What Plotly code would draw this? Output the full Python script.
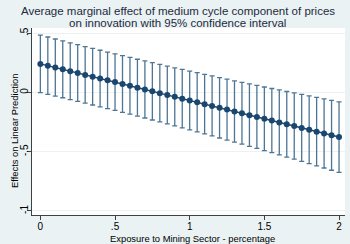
import plotly.graph_objects as go

exposure = [0.0, 0.05, 0.1, 0.15, 0.2, 0.25, 0.3, 0.35, 0.4, 0.45,
            0.5, 0.55, 0.6, 0.65, 0.7, 0.75, 0.8, 0.85, 0.9, 0.95,
            1.0, 1.05, 1.1, 1.15, 1.2, 1.25, 1.3, 1.35, 1.4, 1.45,
            1.5, 1.55, 1.6, 1.65, 1.7, 1.75, 1.8, 1.85, 1.9, 1.95, 2.0]

effect = [0.242, 0.227, 0.211, 0.196, 0.180, 0.165, 0.149, 0.134, 0.118, 0.103,
          0.088, 0.072, 0.057, 0.041, 0.026, 0.010, -0.005, -0.021, -0.036, -0.052,
          -0.067, -0.082, -0.098, -0.113, -0.129, -0.144, -0.160, -0.175, -0.191, -0.206,
          -0.222, -0.237, -0.252, -0.268, -0.283, -0.299, -0.314, -0.330, -0.345, -0.361,
          -0.376]

ci_upper = [0.485, 0.469, 0.452, 0.436, 0.420, 0.404, 0.388, 0.373, 0.357, 0.342,
            0.327, 0.311, 0.297, 0.281, 0.267, 0.252, 0.238, 0.223, 0.209, 0.195,
            0.181, 0.168, 0.153, 0.140, 0.126, 0.113, 0.099, 0.086, 0.073, 0.060,
            0.047, 0.034, 0.022, 0.009, -0.003, -0.016, -0.028, -0.041, -0.053, -0.066,
            -0.078]

ci_lower = [-0.001, -0.015, -0.030, -0.044, -0.060, -0.074, -0.090, -0.105, -0.121, -0.136,
            -0.151, -0.167, -0.183, -0.199, -0.215, -0.232, -0.248, -0.265, -0.281, -0.299,
            -0.315, -0.332, -0.349, -0.366, -0.384, -0.401, -0.419, -0.436, -0.455, -0.472,
            -0.491, -0.508, -0.526, -0.545, -0.563, -0.582, -0.600, -0.619, -0.637, -0.656,
            -0.674]

x_tickvals = [0, 0.5, 1, 1.5, 2]
x_ticktext = ["0", ".5", "1", "1.5", "2"]
y_tickvals = [-1, -0.5, 0, 0.5]
y_ticktext = ["-1", "-.5", "0", ".5"]

title_lines = ["Average marginal effect of medium cycle component of prices",
               "on innovation with 95% confidence interval"]
x_title = "Exposure to Mining Sector - percentage"
y_title = "Effects on Linear Prediction"

err_plus = [u - e for u, e in zip(ci_upper, effect)]
err_minus = [e - l for e, l in zip(effect, ci_lower)]

navy = "#1a476f"
fig = go.Figure()
fig.add_trace(go.Scatter(
    x=exposure, y=effect, mode="lines+markers",
    line=dict(color=navy, width=1.5),
    marker=dict(color=navy, size=6),
    error_y=dict(type="data", symmetric=False, array=err_plus, arrayminus=err_minus,
                 color="#4d7594", thickness=1.3, width=2.5),
    showlegend=False,
))

font_family = "Liberation Sans, Arial, sans-serif"
for txt, yy in zip(title_lines, [1.093, 1.027]):
    fig.add_annotation(text=txt, xref="paper", yref="paper", x=0.466, y=yy,
                       xanchor="center", yanchor="middle", showarrow=False,
                       font=dict(size=11.5, color="#1e2a40", family=font_family))

fig.add_annotation(text=x_title, xref="paper", yref="paper", x=0.514, y=-0.126,
                   xanchor="center", yanchor="middle", showarrow=False,
                   font=dict(size=9.4, color="#000000", family=font_family))
fig.add_annotation(text=y_title, xref="paper", yref="paper", x=-0.0575, y=0.449,
                   xanchor="center", yanchor="middle", showarrow=False, textangle=-90,
                   font=dict(size=9.4, color="#000000", family=font_family))

fig.update_layout(
    width=350, height=244,
    paper_bgcolor="#eaf2f3", plot_bgcolor="#ffffff",
    margin=dict(l=32, r=5, t=28, b=29, autoexpand=False),
    font=dict(family=font_family, color="#000000"),
    xaxis=dict(range=[-0.056, 2.04], tickvals=x_tickvals, ticktext=x_ticktext, automargin=False,
               ticklabelstandoff=-2,
               showgrid=False, zeroline=False, showline=True, linecolor="#404040", linewidth=1,
               ticks="outside", ticklen=4, tickcolor="#404040", tickfont=dict(size=10)),
    yaxis=dict(range=[-1.034, 0.545], tickvals=y_tickvals, ticktext=y_ticktext, tickangle=-90,
               automargin=False, ticklabelstandoff=-5,
               showgrid=True, gridcolor="#eaf2f3", gridwidth=1, zeroline=False,
               showline=True, linecolor="#404040", linewidth=1,
               ticks="outside", ticklen=4, tickcolor="#404040", tickfont=dict(size=10)),
)

fig.write_html("out.html", config={"displayModeBar": False},
               post_script="document.body.style.margin='0';document.body.style.padding='0';")
